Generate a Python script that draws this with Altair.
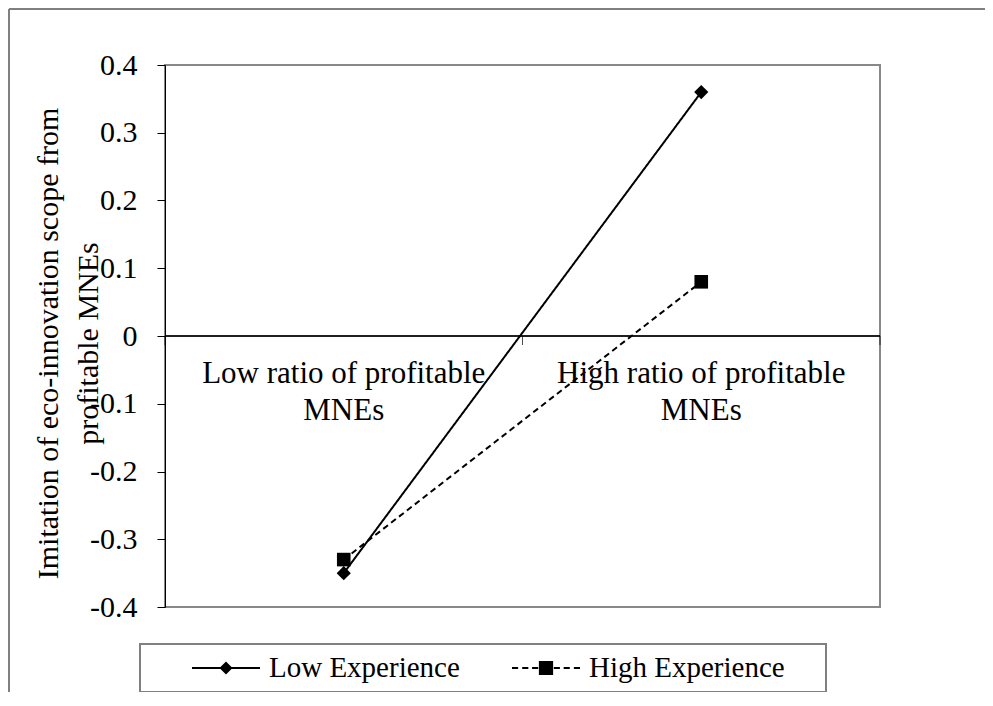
import altair as alt
import pandas as pd

categories = ["Low ratio of profitable\nMNEs", "High ratio of profitable\nMNEs"]
series = ["Low Experience", "High Experience"]
low_experience = [-0.35, 0.36]
high_experience = [-0.33, 0.08]
y_ticks = [-0.4, -0.3, -0.2, -0.1, 0, 0.1, 0.2, 0.3, 0.4]
boundaries = [0, 1, 2]
y_title = ["Imitation of eco-innovation scope from", "profitable MNEs"]

FONT = "Liberation Serif"

rows = []
for i, c in enumerate(categories):
    rows.append({"series": series[0], "pos": i + 0.5, "value": low_experience[i]})
    rows.append({"series": series[1], "pos": i + 0.5, "value": high_experience[i]})
df = pd.DataFrame(rows)
cat_df = pd.DataFrame({"cat": categories, "pos": [i + 0.5 for i in range(len(categories))], "zero": [0] * len(categories)})
bnd_df = pd.DataFrame({"b": boundaries, "zero": [0] * len(boundaries)})
one = pd.DataFrame({"a": [0]})

xs = alt.Scale(domain=[0, len(categories)])
ys = alt.Scale(domain=[-0.4, 0.4], nice=False, zero=False)

low_path = "M-1,0H1M-0.15,0L0,-0.15L0.15,0L0,0.15Z"
high_path = ("M-1,0H-0.82M-0.70,0H-0.52M-0.41,0H-0.23"
             "M0.23,0H0.41M0.52,0H0.70M0.82,0H1"
             "M-0.18,-0.18H0.18V0.18H-0.18Z")

y_axis = alt.Axis(
    values=y_ticks,
    labelExpr="datum.value == 0 ? '0' : replace(format(datum.value, '.1f'), '\u2212', '-')",
    tickSize=8, tickColor="black", domainColor="black", domainWidth=1, tickWidth=1,
    labelFont=FONT, labelFontSize=30, labelColor="black", labelPadding=20,
    grid=False,
    title=y_title, titleFont=FONT, titleFontSize=30, titleFontWeight="normal",
    titleColor="black", titleAngle=270, titleX=-108, titleY=278,
    titleAlign="center", titleBaseline="alphabetic", titleLineHeight=40,
)


def X(field):
    return alt.X(field, scale=xs, axis=None)


def Y(field):
    return alt.Y(field, scale=ys, axis=y_axis)


def legend_for(path, lx, ly):
    return alt.Legend(
        title=None, orient="none", legendX=lx, legendY=ly, direction="horizontal",
        symbolType=path, symbolSize=4624, symbolStrokeColor="black",
        symbolStrokeWidth=2, symbolOpacity=1,
        labelFont=FONT, labelFontSize=29, labelColor="black", labelOffset=8,
        padding=0, labelLimit=0,
    )


base = alt.Chart(df)

lines = base.mark_line(color="black", strokeWidth=2).encode(
    x=X("pos:Q"),
    y=Y("value:Q"),
    strokeDash=alt.StrokeDash("series:N", scale=alt.Scale(domain=series, range=[[1, 0], [6, 4]]), legend=None),
    order="pos:Q",
)

points_low = base.transform_filter(alt.datum.series == series[0]).mark_point(
    filled=True, opacity=1, shape="diamond", size=200
).encode(
    x=X("pos:Q"),
    y=Y("value:Q"),
    color=alt.Color("series:N", scale=alt.Scale(domain=[series[0]], range=["black"]),
                    legend=legend_for(low_path, 26, 568)),
)

points_high = base.transform_filter(alt.datum.series == series[1]).mark_point(
    filled=True, opacity=1, shape="square", size=185
).encode(
    x=X("pos:Q"),
    y=Y("value:Q"),
    color=alt.Color("series:N", scale=alt.Scale(domain=[series[1]], range=["black"]),
                    legend=legend_for(high_path, 346, 568)),
)

zero_rule = alt.Chart(bnd_df).mark_rule(color="black", strokeWidth=1).encode(
    y=Y("zero:Q"),
)

bnd_ticks = alt.Chart(bnd_df).mark_tick(orient="vertical", color="black", thickness=1, size=9, yOffset=4.5).encode(
    x=X("b:Q"),
    y=Y("zero:Q"),
)

cat_labels = alt.Chart(cat_df).mark_text(
    font=FONT, fontSize=31, color="black", align="center", baseline="alphabetic",
    lineBreak="\n", lineHeight=37, dy=47,
).encode(
    x=X("pos:Q"),
    y=Y("zero:Q"),
    text="cat:N",
)

frame_top = alt.Chart(one).mark_rule(stroke="#808080", strokeWidth=2).encode(
    x=alt.value(-156), x2=alt.value(900), y=alt.value(-56),
)
frame_left = alt.Chart(one).mark_rule(stroke="#808080", strokeWidth=2).encode(
    x=alt.value(-156), y=alt.value(-56), y2=alt.value(700),
)

legend_box = alt.Chart(one).mark_rect(fill="transparent", stroke="#808080", strokeWidth=2).encode(
    x=alt.value(-25), x2=alt.value(661), y=alt.value(579), y2=alt.value(627),
)

chart = alt.layer(
    lines, frame_top, frame_left, legend_box, zero_rule, bnd_ticks, cat_labels, points_low, points_high
).resolve_scale(color="independent").properties(
    width=715, height=542,
    autosize=alt.AutoSizeParams(type="none"),
    padding={"left": 157, "top": 57, "right": 105, "bottom": 85},
    background="white",
).configure_view(
    stroke="#888888", strokeWidth=2
).configure_axis(
    labelFont=FONT, labelFontSize=30, labelColor="black",
    titleFont=FONT, titleFontSize=30, titleFontWeight="normal", titleColor="black",
)

chart.save("out.html", embed_options={"renderer": "svg", "actions": False})
